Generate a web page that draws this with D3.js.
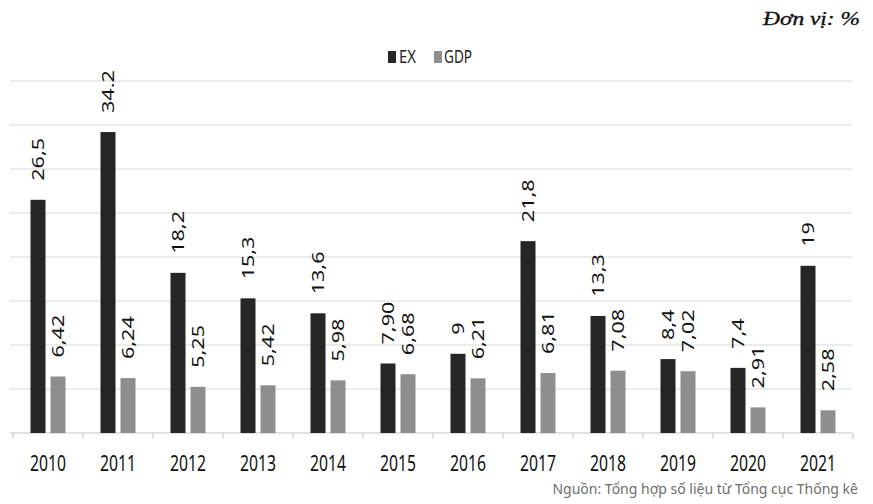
<!DOCTYPE html>
<html>
<head>
<meta charset="utf-8">
<script src="https://cdn.jsdelivr.net/npm/d3@7"></script>
<style>
  body { margin: 0; background: #fff; }
  svg { display: block; }
</style>
</head>
<body>
<svg></svg>
<script>
// chart data
const years = ['2010', '2011', '2012', '2013', '2014', '2015', '2016', '2017', '2018', '2019', '2020', '2021']
const exValues = [26.5, 34.2, 18.2, 15.3, 13.6, 7.9, 9, 21.8, 13.3, 8.4, 7.4, 19]
const gdpValues = [6.42, 6.24, 5.25, 5.42, 5.98, 6.68, 6.21, 6.81, 7.08, 7.02, 2.91, 2.58]
const exLabels = ['26,5', '34.2', '18,2', '15,3', '13,6', '7,90', '9', '21,8', '13,3', '8,4', '7,4', '19']
const gdpLabels = ['6,42', '6,24', '5,25', '5,42', '5,98', '6,68', '6,21', '6,81', '7,08', '7,02', '2,91', '2,58']
const seriesNames = ['EX', 'GDP']
const gridTicks = [0, 5, 10, 15, 20, 25, 30, 35, 40]

const width = 873
const height = 504
const colors = { EX: '#262626', GDP: '#8e8e8e' }

const svg = d3.select('svg')
  .attr('width', width)
  .attr('height', height)

// scales
const x0 = d3.scaleBand()
  .domain(years)
  .range([13, 853])

const x1 = d3.scaleBand()
  .domain(seriesNames)
  .range([0, x0.bandwidth()])
  .paddingInner(0.25)
  .paddingOuter(0.875)

const y = d3.scaleLinear()
  .domain([0, 40])
  .range([433, 81])

// gridlines
svg.append('g')
  .selectAll('line')
  .data(gridTicks)
  .enter()
  .append('line')
  .attr('x1', 10)
  .attr('x2', 852)
  .attr('y1', d => y(d))
  .attr('y2', d => y(d))
  .attr('stroke', d => d === 0 ? '#c4c4c4' : '#d8d8d8')
  .attr('stroke-width', 1.2)

// category separators under the baseline
const edges = years.map(d => x0(d)).concat([x0(years[years.length - 1]) + x0.bandwidth()])
svg.append('g')
  .selectAll('line')
  .data(edges)
  .enter()
  .append('line')
  .attr('x1', d => d)
  .attr('x2', d => d)
  .attr('y1', y(0))
  .attr('y2', y(0) + 6)
  .attr('stroke', '#c4c4c4')

// rows per year
const rows = years.map((yr, i) => ({
  year: yr,
  items: [
    { key: 'EX', value: exValues[i], label: exLabels[i] },
    { key: 'GDP', value: gdpValues[i], label: gdpLabels[i] }
  ]
}))

const groups = svg.append('g')
  .selectAll('g')
  .data(rows)
  .enter()
  .append('g')
  .attr('transform', d => 'translate(' + x0(d.year) + ',0)')

groups.selectAll('rect')
  .data(d => d.items)
  .enter()
  .append('rect')
  .attr('x', d => x1(d.key))
  .attr('width', x1.bandwidth())
  .attr('y', d => y(d.value))
  .attr('height', d => y(0) - y(d.value))
  .attr('fill', d => colors[d.key])

// rotated value labels (stretched along text like the scanned original)
groups.selectAll('text')
  .data(d => d.items)
  .enter()
  .append('text')
  .attr('transform', d => 'translate(' + (x1(d.key) + x1.bandwidth() / 2 + 6) + ',' + (y(d.value) - 19) + ') rotate(-90) scale(1.27,1)')
  .attr('font-family', 'Noto Sans, sans-serif')
  .attr('font-size', 17)
  .attr('fill', '#111')
  .text(d => d.label)

// year labels
svg.append('g')
  .selectAll('text')
  .data(years)
  .enter()
  .append('text')
  .attr('x', d => x0(d) + x0.bandwidth() / 2 - 18)
  .attr('y', 471)
  .attr('font-family', 'Noto Sans, sans-serif')
  .attr('font-size', 21)
  .attr('textLength', 36)
  .attr('lengthAdjust', 'spacingAndGlyphs')
  .attr('fill', '#111')
  .text(d => d)

// legend
const legend = svg.append('g')
const legendPos = [{ key: 'EX', sx: 388, tx: 399, tw: 17 }, { key: 'GDP', sx: 434, tx: 444, tw: 28 }]
legend.selectAll('rect')
  .data(legendPos)
  .enter()
  .append('rect')
  .attr('x', d => d.sx)
  .attr('y', 51)
  .attr('width', 8)
  .attr('height', 12)
  .attr('fill', d => colors[d.key])
legend.selectAll('text')
  .data(legendPos)
  .enter()
  .append('text')
  .attr('x', d => d.tx)
  .attr('y', 63)
  .attr('font-family', 'Noto Sans, sans-serif')
  .attr('font-size', 18)
  .attr('textLength', d => d.tw)
  .attr('lengthAdjust', 'spacingAndGlyphs')
  .attr('fill', '#222')
  .text(d => d.key)

// unit note
svg.append('text')
  .attr('x', 763)
  .attr('y', 25)
  .attr('font-family', 'Liberation Serif, serif')
  .attr('font-style', 'italic')
  .attr('font-size', 19)
  .attr('textLength', 97)
  .attr('lengthAdjust', 'spacingAndGlyphs')
  .attr('fill', '#111')
  .attr('stroke', '#111')
  .attr('stroke-width', 0.35)
  .text('Đơn vị: %')

// source
svg.append('text')
  .attr('x', 858)
  .attr('y', 494)
  .attr('text-anchor', 'end')
  .attr('font-family', 'Noto Sans, sans-serif')
  .attr('font-size', 14)
  .attr('fill', '#6e6e6e')
  .text('Nguồn: Tổng hợp số liệu từ Tổng cục Thống kê')
</script>
</body>
</html>
